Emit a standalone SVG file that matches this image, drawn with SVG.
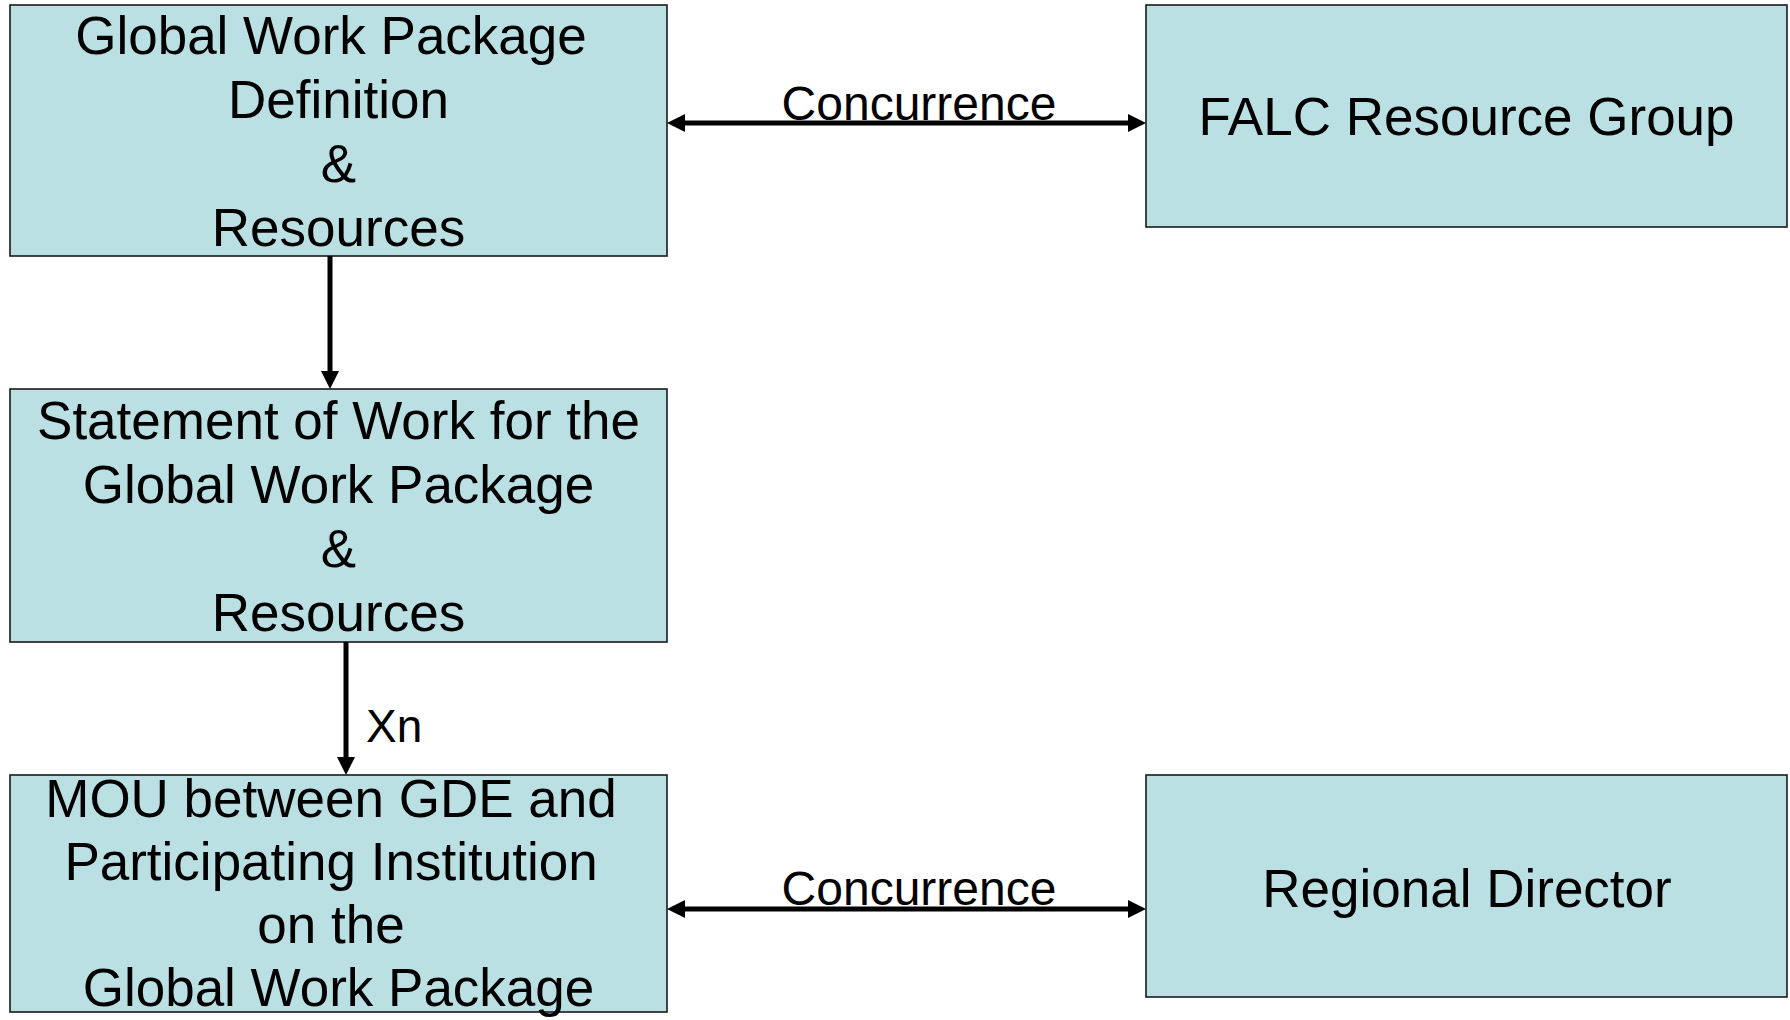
<svg xmlns="http://www.w3.org/2000/svg" width="1790" height="1020" viewBox="0 0 1790 1020">
<style>
.box{fill:#BAE0E3;stroke:#1a1a1a;stroke-width:1.6}
.t{font-family:"Liberation Sans",Arial,sans-serif;font-size:53px;fill:#000;text-anchor:middle}
.lbl{font-family:"Liberation Sans",Arial,sans-serif;font-size:48px;fill:#000}
.con{stroke:#000;stroke-width:5;fill:none}
</style>
<defs>
<marker id="ah" markerUnits="userSpaceOnUse" viewBox="0 0 18 18" markerWidth="18" markerHeight="18" refX="8" refY="9" orient="auto-start-reverse">
<path d="M0,0 L18,9 L0,18 z" fill="#000"/>
</marker>
</defs>
<rect width="1790" height="1020" fill="#fff"/>
<g id="n1">
<rect class="box" x="10" y="5" width="657" height="251"/>
<text class="t" x="331" y="54">Global Work Package</text>
<text class="t" x="338.5" y="118">Definition</text>
<text class="t" x="338.5" y="182">&amp;</text>
<text class="t" x="338.5" y="246">Resources</text>
</g>
<g id="n2">
<rect class="box" x="1146" y="5" width="641" height="222"/>
<text class="t" x="1466.5" y="135">FALC Resource Group</text>
</g>
<g id="n3">
<rect class="box" x="10" y="389" width="657" height="253"/>
<text class="t" x="338.5" y="439">Statement of Work for the</text>
<text class="t" x="338.5" y="503">Global Work Package</text>
<text class="t" x="338.5" y="567">&amp;</text>
<text class="t" x="338.5" y="631">Resources</text>
</g>
<g id="n4">
<rect class="box" x="10" y="775" width="657" height="237"/>
<text class="t" x="331" y="817">MOU between GDE and</text>
<text class="t" x="331" y="880">Participating Institution</text>
<text class="t" x="331" y="943">on the</text>
<text class="t" x="338.5" y="1006">Global Work Package</text>
</g>
<g id="n5">
<rect class="box" x="1146" y="775" width="641" height="222"/>
<text class="t" x="1467" y="907">Regional Director</text>
</g>
<g id="connectors">
<line class="con" x1="677" y1="123" x2="1136" y2="123" marker-start="url(#ah)" marker-end="url(#ah)"/>
<text class="lbl" x="919" y="120" text-anchor="middle">Concurrence</text>
<line class="con" x1="330" y1="256" x2="330" y2="379" marker-end="url(#ah)"/>
<line class="con" x1="346" y1="642" x2="346" y2="765" marker-end="url(#ah)"/>
<text class="lbl" x="366" y="742" style="font-size:46px">Xn</text>
<line class="con" x1="677" y1="909" x2="1136" y2="909" marker-start="url(#ah)" marker-end="url(#ah)"/>
<text class="lbl" x="919" y="905" text-anchor="middle">Concurrence</text>
</g>
</svg>
